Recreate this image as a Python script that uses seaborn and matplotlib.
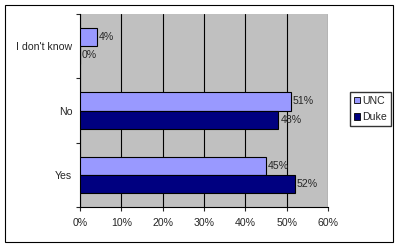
import matplotlib
matplotlib.use("Agg")
import matplotlib.pyplot as plt
import seaborn as sns
import pandas as pd
from matplotlib.patches import Rectangle

categories = ["I don't know", "No", "Yes"]
series = ["UNC", "Duke"]
unc = [4, 51, 45]
duke = [0, 48, 52]
xticks = [0, 10, 20, 30, 40, 50, 60]

df = pd.DataFrame({
    "cat": categories * 2,
    "school": ["UNC"] * 3 + ["Duke"] * 3,
    "val": unc + duke,
})

sns.set_style("white")
plt.rcParams["font.family"] = ["Liberation Sans", "DejaVu Sans"]
FS = 7.6

fig = plt.figure(figsize=(4.0, 2.47), dpi=100)
ax = fig.add_axes([80 / 400, 1 - 207 / 247, (328 - 80) / 400, (207 - 14) / 247])

palette = {"UNC": "#9999FF", "Duke": "#000080"}
sns.barplot(data=df, y="cat", x="val", hue="school", order=categories,
            hue_order=series, palette=palette, orient="h", width=0.56,
            edgecolor="black", linewidth=0.8, saturation=1, ax=ax, legend=False,
            zorder=3)

ax.set_facecolor("#C0C0C0")
ax.set_xlim(0, 60)
ax.set_ylim(2.5, -0.5)
ax.set_xticks(xticks)
ax.set_xticklabels([f"{t}%" for t in xticks], fontsize=FS)
ax.set_yticks([0, 1, 2])
ax.set_yticklabels(categories, fontsize=FS)
ax.set_yticks([-0.5, 0.5, 1.5, 2.5], minor=True)
ax.tick_params(axis="y", which="major", length=0, pad=5.5)
ax.tick_params(axis="y", which="minor", length=3, direction="out", width=0.8, left=True)
ax.tick_params(axis="x", length=3, direction="out", width=0.8, bottom=True, pad=5)
ax.set_xlabel("")
ax.set_ylabel("")
ax.grid(axis="x", color="black", linewidth=0.8, zorder=1)
ax.set_axisbelow(True)
for side in ["top", "right"]:
    ax.spines[side].set_visible(False)
for side in ["left", "bottom"]:
    ax.spines[side].set_color("black")
    ax.spines[side].set_linewidth(0.8)

for cont in ax.containers:
    ax.bar_label(cont, labels=[f"{v:.0f}%" for v in cont.datavalues], fontsize=FS, padding=1.5)

# legend
handles = [Rectangle((0, 0), 1, 1, facecolor=palette[s], edgecolor="black", linewidth=0.6) for s in series]
fig.legend(handles, series, loc="upper left", bbox_to_anchor=(350 / 400, 1 - 92 / 247),
           fontsize=FS, frameon=True, fancybox=False, edgecolor="black",
           handlelength=0.6, handleheight=0.6, handletextpad=0.2, borderpad=0.35,
           labelspacing=0.6, borderaxespad=0)

# outer border
fig.patches.append(Rectangle((5 / 400, 5 / 247), 388 / 400, 237 / 247, transform=fig.transFigure,
                             fill=False, edgecolor="black", linewidth=0.8))

fig.savefig("out.png", dpi=100, facecolor="white")
